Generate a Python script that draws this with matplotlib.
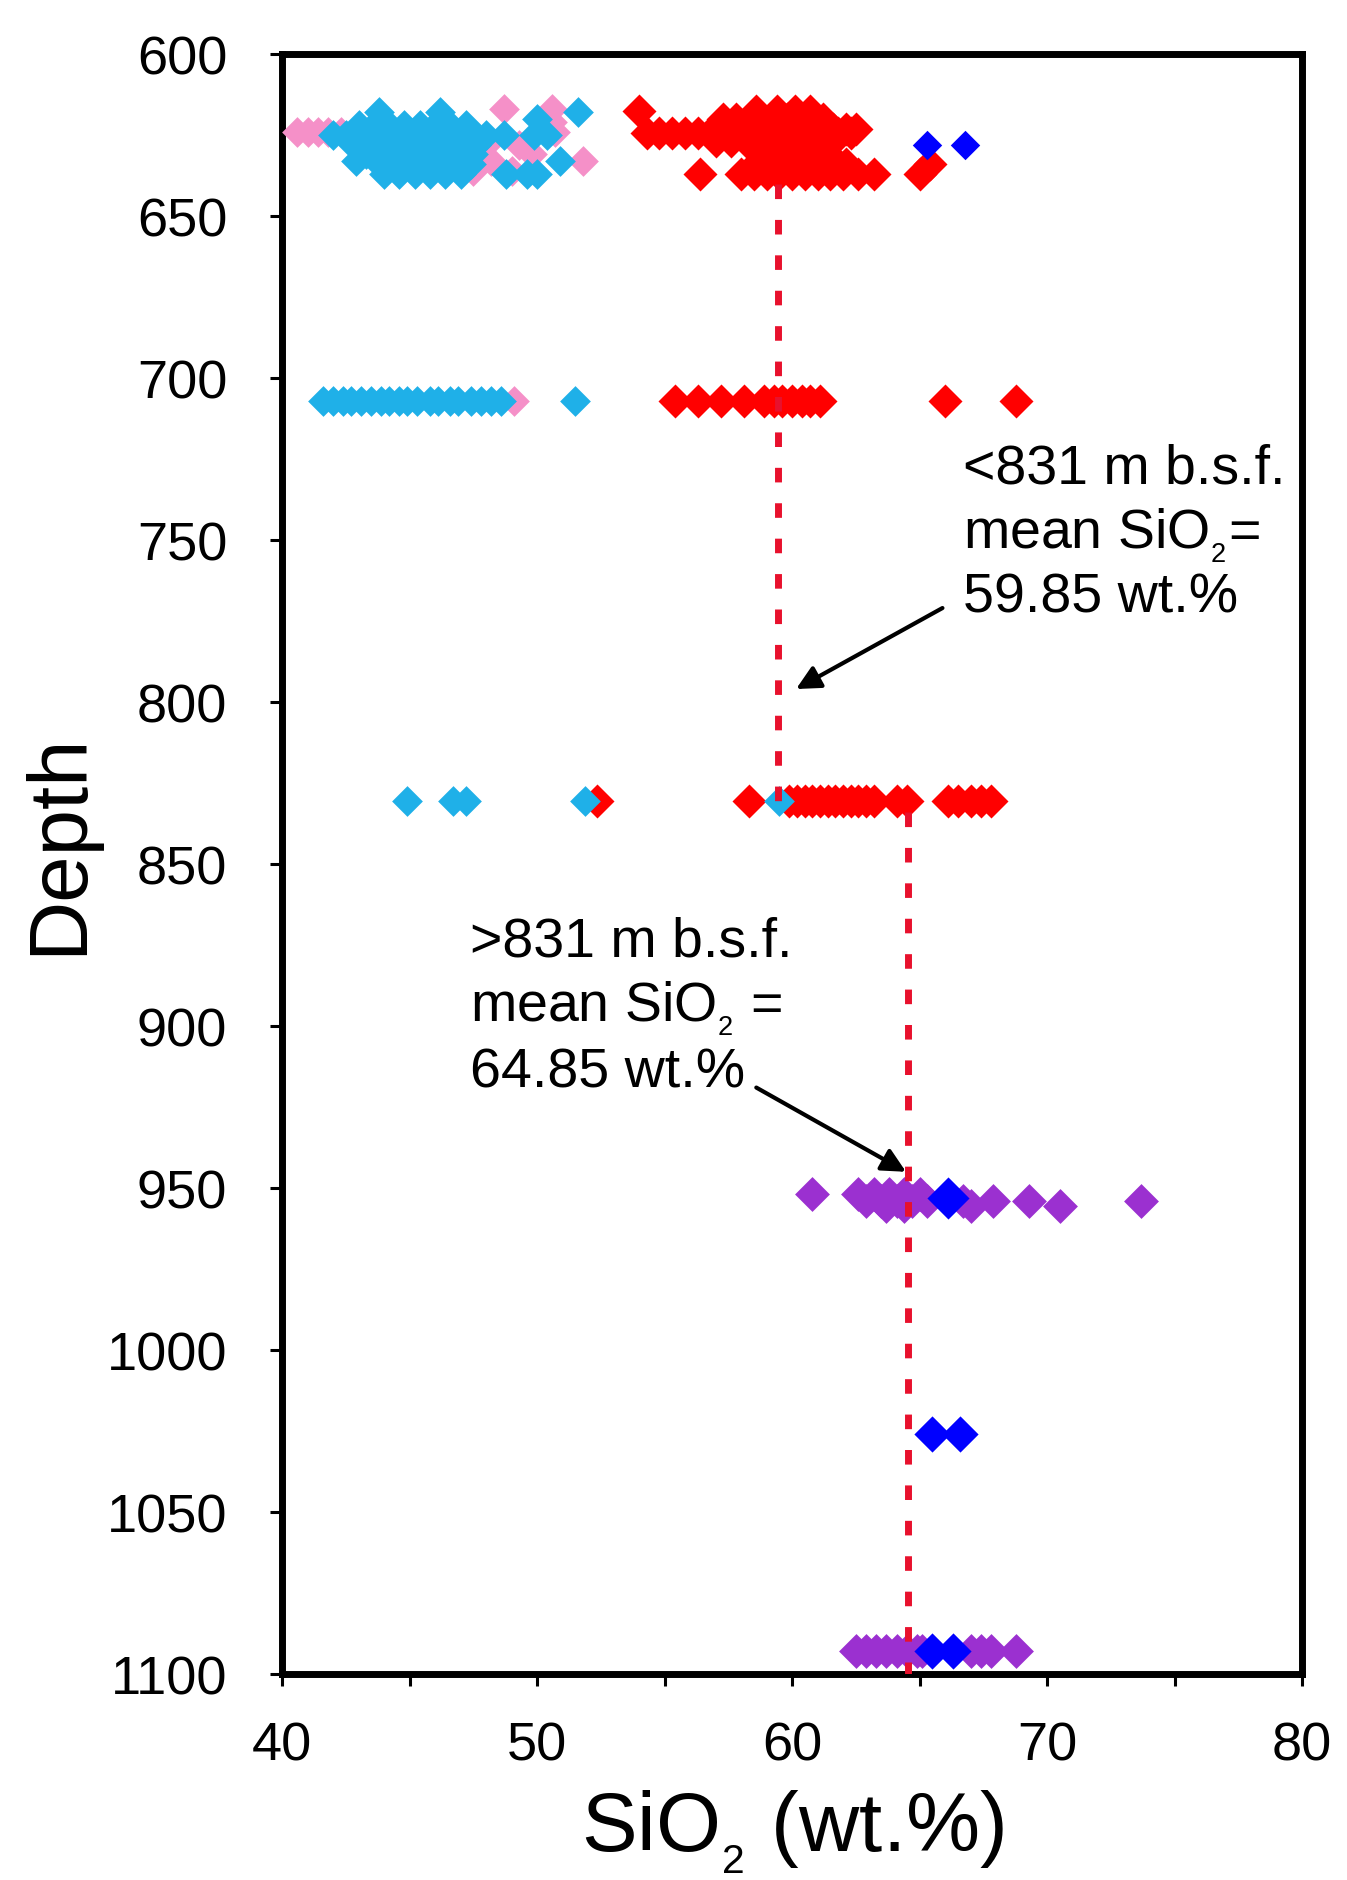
import matplotlib
matplotlib.use("Agg")
import matplotlib.pyplot as plt
import numpy as np

plt.rcParams['font.family'] = ['Liberation Sans', 'DejaVu Sans']
plt.rcParams['mathtext.fontset'] = 'custom'
plt.rcParams['mathtext.rm'] = 'Liberation Sans'
plt.rcParams['mathtext.it'] = 'Liberation Sans:italic'
plt.rcParams['mathtext.bf'] = 'Liberation Sans:bold'

# ---------------- data (depth rows -> SiO2 values) ----------------
red_depths = [617.5, 620, 623, 624.5, 627, 631, 634, 637, 707, 830.5]
red_sio2 = [
    [54.0, 58.6, 59.4, 60.1, 60.7],
    [57.3, 57.8, 58.3, 58.8, 59.3, 59.8, 60.3, 60.8, 61.2],
    [61.6, 62.1, 62.5],
    [54.3, 54.8, 55.3, 55.8, 56.3, 56.8, 57.3, 57.8, 58.3, 58.8, 59.3, 59.8, 60.3, 60.8, 61.3, 61.8, 62.3],
    [57.0, 57.6, 58.2, 58.8, 59.4, 60.0, 60.6, 61.2, 61.6],
    [59.0, 59.5, 60.0, 60.5, 61.0, 61.4],
    [58.6, 59.2, 59.8, 60.4, 61.0, 61.6, 62.1, 65.4],
    [56.4, 58.0, 58.5, 59.0, 59.5, 60.0, 60.5, 61.0, 61.5, 62.0, 62.6, 63.2, 65.0],
    [55.4, 56.3, 57.2, 58.1, 58.9, 59.3, 59.6, 60.0, 60.4, 60.7, 61.1, 66.0, 68.8],
    [52.35, 58.3, 59.9, 60.2, 60.5, 60.8, 61.1, 61.4, 61.7, 62.0, 62.3, 62.6, 62.9, 63.2,
     64.1, 64.5, 66.1, 66.5, 67.0, 67.4, 67.8],
]

cyan_depths = [618, 620, 622, 625, 628, 631, 633, 634, 637, 707, 830.5]
cyan_sio2 = [
    [43.8, 46.2, 51.6],
    [50.0],
    [43.0, 43.6, 44.2, 44.8, 45.4, 46.0, 46.6, 47.2],
    [42.0, 42.5, 43.0, 43.5, 44.0, 44.5, 45.0, 45.5, 46.0, 46.5, 47.0, 47.5, 48.0, 48.7, 49.9, 50.4],
    [42.8, 43.4, 44.0, 44.6, 45.2, 45.8, 46.4, 47.0, 47.6],
    [43.3, 43.9, 44.5, 45.1, 45.7, 46.3, 46.9, 47.5],
    [42.9, 50.9],
    [43.8, 44.4, 45.0, 45.6, 46.2, 46.8, 47.4],
    [44.0, 44.6, 45.2, 45.8, 46.4, 47.0, 48.8, 49.6, 50.0],
    [41.6, 42.0, 42.4, 42.7, 43.1, 43.5, 43.9, 44.2, 44.6, 44.9, 45.3, 45.8, 46.1, 46.6,
     46.9, 47.4, 47.8, 48.2, 48.6, 51.5],
    [44.9, 46.7, 47.2, 51.9, 59.5],
]

pink_depths = [617, 621, 624, 628, 631, 633, 636, 707]
pink_sio2 = [
    [48.7, 50.6],
    [50.6],
    [40.6, 41.0, 41.4, 41.8, 42.3, 50.7],
    [48.0, 49.3],
    [49.8],
    [48.2, 51.8],
    [47.5, 49.0],
    [49.1],
]

purple_depths = [952, 954, 955.5, 1093]
purple_sio2 = [
    [60.8, 62.6, 63.2, 63.8, 64.4, 65.0],
    [62.9, 63.5, 64.1, 64.7, 65.3, 66.7, 67.9, 69.3, 73.7],
    [63.7, 64.4, 67.0, 70.5],
    [62.5, 62.9, 63.3, 63.7, 64.1, 64.5, 64.9, 65.1, 67.0, 67.4, 67.8, 68.8],
]

blue_small_depth = [628, 628]
blue_small_sio2 = [65.3, 66.8]
blue_large_depth = [953]
blue_large_sio2 = [66.1]
blue_depth = [1026, 1026, 1093, 1093]
blue_sio2 = [65.5, 66.6, 65.5, 66.3]

# mean lines (as drawn)
upper_mean_x = 59.45
upper_depth_range = [640, 831]
lower_mean_x = 64.55
lower_depth_range = [834, 1100]

x_ticks = [40, 50, 60, 70, 80]
y_ticks = [600, 650, 700, 750, 800, 850, 900, 950, 1000, 1050, 1100]


def flatten(depths, rows):
    xs, ys = [], []
    for d, r in zip(depths, rows):
        xs.extend(r)
        ys.extend([d] * len(r))
    return np.array(xs), np.array(ys)


W, H = 1347, 1881
fig = plt.figure(figsize=(W / 100, H / 100), dpi=100)
ax = fig.add_axes([282 / W, 1 - 1675 / H, (1302 - 282) / W, (1675 - 55) / H])

RED = '#FF0000'
CYAN = '#1FB0E8'
PINK = '#F590C8'
PURPLE = '#9B30D0'
BLUE = '#0000FF'

x, y = flatten(red_depths, red_sio2)
ax.scatter(x, y, marker='D', s=300, color=RED, linewidths=0, zorder=2)
x, y = flatten(pink_depths, pink_sio2)
ax.scatter(x, y, marker='D', s=245, color=PINK, linewidths=0, zorder=3)
x, y = flatten(cyan_depths, cyan_sio2)
ax.scatter(x, y, marker='D', s=245, color=CYAN, linewidths=0, zorder=4)
x, y = flatten(purple_depths, purple_sio2)
ax.scatter(x, y, marker='D', s=315, color=PURPLE, linewidths=0, zorder=5)
ax.scatter(blue_small_sio2, blue_small_depth, marker='D', s=225, color=BLUE, linewidths=0, zorder=6)
ax.scatter(blue_large_sio2, blue_large_depth, marker='D', s=460, color=BLUE, linewidths=0, zorder=6)
ax.scatter(blue_sio2, blue_depth, marker='D', s=340, color=BLUE, linewidths=0, zorder=6)

dash_kw = dict(color='#E8112D', lw=5, dashes=(2.1, 3.0), zorder=7, solid_capstyle='butt')
ax.plot([upper_mean_x, upper_mean_x], upper_depth_range, **dash_kw)
ax.plot([lower_mean_x, lower_mean_x], lower_depth_range, **dash_kw)

# arrows
arrow_kw = dict(arrowstyle='-|>', lw=3, color='black', mutation_scale=36, shrinkA=0, shrinkB=0)
ax.annotate('', xy=(60.16, 796), xytext=(65.9, 771), arrowprops=arrow_kw, zorder=8)
ax.annotate('', xy=(64.47, 945), xytext=(58.6, 919), arrowprops=arrow_kw, zorder=8)

ax.set_xlim(40, 80)
ax.set_ylim(1100, 600)
ax.set_xticks(x_ticks)
ax.set_xticks([45, 55, 65, 75], minor=True)
ax.set_yticks(y_ticks)
ax.tick_params(axis='both', which='both', direction='out', length=8.5, width=2.2)
ax.tick_params(axis='x', which='major', labelsize=39, pad=25)
ax.tick_params(axis='y', which='major', labelsize=39, pad=31)
ax.tick_params(top=False, right=False)
for sp in ax.spines.values():
    sp.set_linewidth(5)

ax.set_xlabel('SiO$_{_2}$ (wt.%)', fontsize=60, labelpad=12)
ax.set_ylabel('Depth', fontsize=60, labelpad=18)
ax.yaxis.set_label_coords(-0.18, 0.513)

# annotations text
fs = 40
def line(xpx, ypx, s):
    fig.text(xpx / W, 1 - ypx / H, s, fontsize=fs, ha='left', va='baseline')

line(963, 483, '<831 m b.s.f.')
line(963, 548, 'mean SiO$_{_2}$=')
line(963, 613, '59.85 wt.%')
line(470, 957, '>831 m b.s.f.')
line(470, 1021, 'mean SiO$_{_2}$ =')
line(470, 1087, '64.85 wt.%')

fig.savefig('out.png', dpi=100)
